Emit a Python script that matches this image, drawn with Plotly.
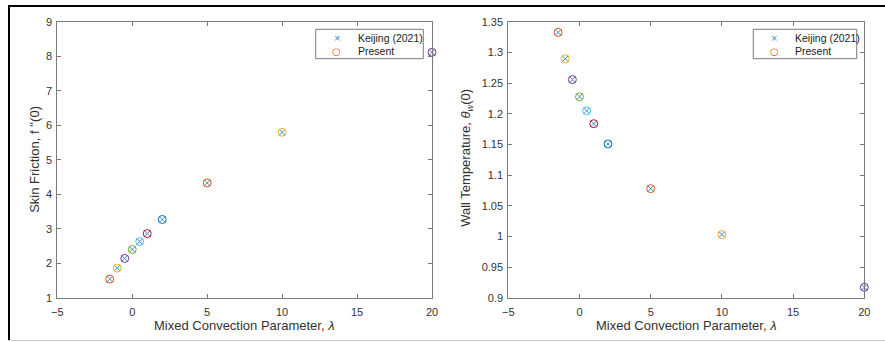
import plotly.graph_objects as go

# Mixed convection parameter values
lam = [-1.5, -1, -0.5, 0, 0.5, 1, 2, 5, 10, 20]

# Skin friction f''(0)
cf_keijing = [1.54, 1.86, 2.14, 2.40, 2.63, 2.86, 3.27, 4.33, 5.80, 8.12]
cf_present = [1.54, 1.86, 2.14, 2.40, 2.63, 2.86, 3.27, 4.33, 5.80, 8.12]

# Wall temperature theta_w(0)
tw_keijing = [1.333, 1.290, 1.256, 1.228, 1.205, 1.184, 1.151, 1.078, 1.003, 0.917]
tw_present = [1.333, 1.290, 1.256, 1.228, 1.205, 1.184, 1.151, 1.078, 1.003, 0.917]

series_names = ["Keijing (2021)", "Present"]

# MATLAB-like colour order; "Present" points cycle from the second colour
order = ["#0072BD", "#D95319", "#EDB120", "#7E2F8E", "#77AC30", "#4DBEEE", "#A2142F"]
circle_colors = [order[(i + 1) % len(order)] for i in range(len(lam))]
x_color = "#3b8fd6"

xticks = [-5, 0, 5, 10, 15, 20]
left_yticks = [1, 2, 3, 4, 5, 6, 7, 8, 9]
right_yticks = [0.9, 0.95, 1.0, 1.05, 1.1, 1.15, 1.2, 1.25, 1.3, 1.35]
right_ytext = ["0.9", "0.95", "1", "1.05", "1.1", "1.15", "1.2", "1.25", "1.3", "1.35"]

FONT = "Liberation Sans, Arial, sans-serif"
AX = "#7a7a7a"
TXT = "#333333"
W, H = 885, 342


def px(x):
    return x / W


def py(y):
    return 1 - y / H


fig = go.Figure()

for xa, ya, yk, yp in [("x", "y", cf_keijing, cf_present),
                       ("x2", "y2", tw_keijing, tw_present)]:
    fig.add_trace(go.Scatter(
        x=lam, y=yk, mode="markers", name=series_names[0],
        xaxis=xa, yaxis=ya, cliponaxis=False, showlegend=False,
        marker=dict(symbol="x-thin-open", size=6, color=x_color,
                    line=dict(width=1, color=x_color)),
    ))
    fig.add_trace(go.Scatter(
        x=lam, y=yp, mode="markers", name=series_names[1],
        xaxis=xa, yaxis=ya, cliponaxis=False, showlegend=False,
        marker=dict(symbol="circle-open", size=8, color=circle_colors,
                    line=dict(width=1, color=circle_colors)),
    ))

axis_common = dict(
    showgrid=False, zeroline=False, showline=True, linecolor=AX, linewidth=1,
    mirror="ticks", ticks="inside", ticklen=4, tickcolor=AX, tickwidth=1,
    tickfont=dict(family=FONT, size=11, color=TXT), automargin=False,
)

# Plot areas (pixels): left 57..432, right 508..864, vertical 22..298
L0, L1, R0, R1, T, B = 57.3, 432, 508.3, 864.3, 22, 297.7

fig.update_layout(
    width=W, height=H,
    margin=dict(l=0, r=0, t=0, b=0),
    paper_bgcolor="white", plot_bgcolor="white",
    font=dict(family=FONT, color=TXT),
    showlegend=False,
    xaxis=dict(domain=[px(L0), px(L1)], range=[-5, 20], tickvals=xticks,
               anchor="y", ticklabelstandoff=4, **axis_common),
    yaxis=dict(domain=[py(B), py(T)], range=[1, 9], tickvals=left_yticks,
               anchor="x", ticklabelstandoff=2, **axis_common),
    xaxis2=dict(domain=[px(R0), px(R1)], range=[-5, 20], tickvals=xticks,
                anchor="y2", ticklabelstandoff=4, **axis_common),
    yaxis2=dict(domain=[py(B), py(T)], range=[0.9, 1.35], tickvals=right_yticks,
                ticktext=right_ytext, anchor="x2", ticklabelstandoff=2, **axis_common),
)

title_font = dict(family=FONT, size=13, color=TXT)
xtitle = "Mixed Convection Parameter, <i>λ</i>"
annotations = [
    dict(text=xtitle, x=px((L0 + L1) / 2), y=py(325.7)),
    dict(text=xtitle, x=px((R0 + R1) / 2), y=py(325.7)),
    dict(text="Skin Friction, f ''(0)", x=px(35), y=py((T + B) / 2), textangle=-90),
    dict(text="Wall Temperature, <i>θ<sub>w</sub></i>(0)", x=px(467), y=py((T + B) / 2 - 2),
         textangle=-90),
]
for a in annotations:
    a.update(xref="paper", yref="paper", showarrow=False, xanchor="center",
             yanchor="middle", font=title_font)
    fig.add_annotation(**a)

# Legend boxes drawn in each panel's upper-right corner
legend_font = dict(family=FONT, size=10.5, color="#222222")
for bx0, bx1 in [(315.7, 423.3), (753.3, 856.7)]:
    fig.add_shape(type="rect", xref="paper", yref="paper",
                  x0=px(bx0), x1=px(bx1), y0=py(58.7), y1=py(29.3),
                  line=dict(color=AX, width=1), fillcolor="white", layer="above")
    sym_x = bx0 + 21
    txt_x = bx0 + 40
    fig.add_annotation(text="×", x=px(sym_x), y=py(38.3), xref="paper", yref="paper",
                       showarrow=False, xanchor="center", yanchor="middle",
                       font=dict(family=FONT, size=11, color=x_color))
    fig.add_annotation(text="○", x=px(sym_x), y=py(51.2), xref="paper", yref="paper",
                       showarrow=False, xanchor="center", yanchor="middle",
                       font=dict(family="DejaVu Sans", size=10, color=order[1]))
    for name, yy in zip(series_names, [38.3, 51.2]):
        fig.add_annotation(text=name, x=px(txt_x), y=py(yy), xref="paper", yref="paper",
                           showarrow=False, xanchor="left", yanchor="middle",
                           font=legend_font)

# Figure frame: heavy top and left edges, light bottom edge
fig.add_shape(type="line", xref="paper", yref="paper", x0=px(8), x1=1, y0=py(6), y1=py(6),
              line=dict(color="black", width=2))
fig.add_shape(type="line", xref="paper", yref="paper", x0=px(9), x1=px(9), y0=py(5), y1=py(340),
              line=dict(color="black", width=2))
fig.add_shape(type="line", xref="paper", yref="paper", x0=px(8), x1=1, y0=py(340.5), y1=py(340.5),
              line=dict(color="#c8c8c8", width=1))

fig.write_html("out.html")
